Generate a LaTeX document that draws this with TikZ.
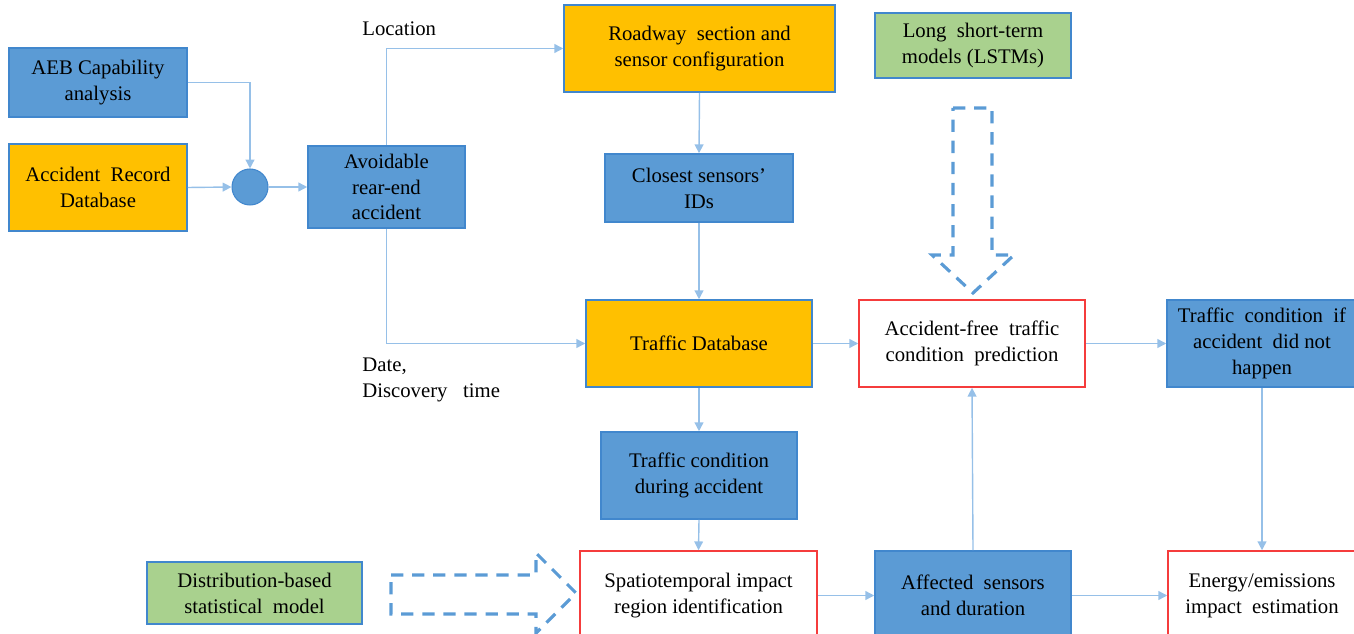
\documentclass[tikz,border=0pt]{standalone}
\usepackage{fontspec}
\setmainfont{Liberation Serif}
\usetikzlibrary{arrows.meta}
\definecolor{boxblue}{RGB}{91,155,213}
\definecolor{boxorange}{RGB}{255,192,0}
\definecolor{boxgreen}{RGB}{169,209,142}
\definecolor{boxline}{RGB}{65,135,205}
\definecolor{linkblue}{RGB}{150,192,232}
\definecolor{redline}{RGB}{245,60,60}
\tikzset{
  box/.style={draw=boxline, line width=0.9pt, align=center, inner sep=2pt,
    font=\fontsize{11.8}{14.7}\selectfont},
  bluebox/.style={box, fill=boxblue},
  orangebox/.style={box, fill=boxorange},
  greenbox/.style={box, fill=boxgreen},
  redbox/.style={box, draw=redline, fill=white},
  conn/.style={draw=linkblue, line width=0.8pt, -{Triangle[length=5pt,width=5pt]}},
  bigarrow/.style={draw=boxblue, line width=1.8pt, dash pattern=on 7pt off 5pt}
}

\begin{document}
\begin{tikzpicture}[x=0.02cm, y=-0.02cm]
\useasboundingbox (0,0) rectangle (1354,634);
\clip (0,0) rectangle (1354,634);

% input side
\node[bluebox, minimum width=3.56cm, minimum height=1.38cm] (aeb) at (98,82.5) {AEB Capability\\analysis};
\node[orangebox, minimum width=3.56cm, minimum height=1.74cm] (ard) at (98,187.5) {Accident\ \ Record\\Database};
\node[circle, fill=boxblue, draw=boxline, line width=0.6pt, minimum size=0.72cm] (circ) at (250,187) {};
\node[bluebox, minimum width=3.14cm, minimum height=1.64cm] (avoid) at (386.5,187) {Avoidable\\rear-end\\accident};

% middle column
\node[orangebox, minimum width=5.42cm, minimum height=1.74cm] (road) at (699.5,48.5) {Roadway\ \ section\ and\\sensor\ configuration};
\node[bluebox, minimum width=3.76cm, minimum height=1.36cm] (closest) at (699,188) {Closest sensors'\\IDs};
\node[orangebox, minimum width=4.52cm, minimum height=1.74cm] (tdb) at (699,343.5) {Traffic\ Database};
\node[bluebox, minimum width=3.92cm, minimum height=1.74cm] (tdur) at (699,475.5) {Traffic condition\\during accident};
\node[redbox, minimum width=4.74cm, minimum height=1.78cm] (spat) at (698.5,595.5) {Spatiotemporal impact\\region identification};
\node[greenbox, minimum width=4.3cm, minimum height=1.24cm] (dist) at (254.5,593) {Distribution-based\\statistical\ \ model};

% right side
\node[greenbox, minimum width=3.92cm, minimum height=1.3cm] (lstm) at (973,45.5) {Long\ \ short-term\\models\ (LSTMs)};
\node[redbox, minimum width=4.52cm, minimum height=1.74cm] (afree) at (972,343.5) {Accident-free\ \ traffic\\condition\ \ prediction};
\node[bluebox, minimum width=3.8cm, minimum height=1.74cm] (tif) at (1262,343.5) {Traffic\ \ condition\ \ if\\accident\ \ did\ not\\happen};
\node[bluebox, minimum width=3.92cm, minimum height=1.78cm] (aff) at (973,595.5) {Affected\ \ sensors\\and duration};
\node[redbox, minimum width=3.76cm, minimum height=1.78cm] (energy) at (1262,595.5) {Energy/emissions\\impact\ \ estimation};

% labels
\node[anchor=west, inner sep=0pt, font=\fontsize{11.8}{14.7}\selectfont] (loc) at (362,29) {Location};
\node[anchor=west, inner sep=0pt, align=left, font=\fontsize{11.8}{14.7}\selectfont] (date) at (362,380) {Date,\\Discovery\ \ \ time};

% connectors
\draw[conn] (aeb.east) -| (circ.north);
\draw[conn] (ard.east) -- (circ.west);
\draw[conn] (circ.east) -- (avoid.west);
\draw[conn] (avoid.north) |- (road.west);
\draw[conn] (avoid.south) |- (tdb.west);
\draw[conn] (road.south) -- (closest.north);
\draw[conn] (closest.south) -- (tdb.north);
\draw[conn] (tdb.east) -- (afree.west);
\draw[conn] (afree.east) -- (tif.west);
\draw[conn] (tdb.south) -- (tdur.north);
\draw[conn] (tdur.south) -- (spat.north);
\draw[conn] (spat.east) -- (aff.west);
\draw[conn] (aff.north) -- (afree.south);
\draw[conn] (aff.east) -- (energy.west);
\draw[conn] (tif.south) -- (energy.north);

% dashed block arrows
\draw[bigarrow] (953,108) -- (992,108) -- (992,255) -- (1014,255) -- (973,293)
  -- (932,255) -- (953,255) -- cycle;
\draw[bigarrow] (391,575) -- (536,575) -- (536,553) -- (576,593) -- (536,633)
  -- (536,614) -- (391,614) -- cycle;

\end{tikzpicture}
\end{document}
